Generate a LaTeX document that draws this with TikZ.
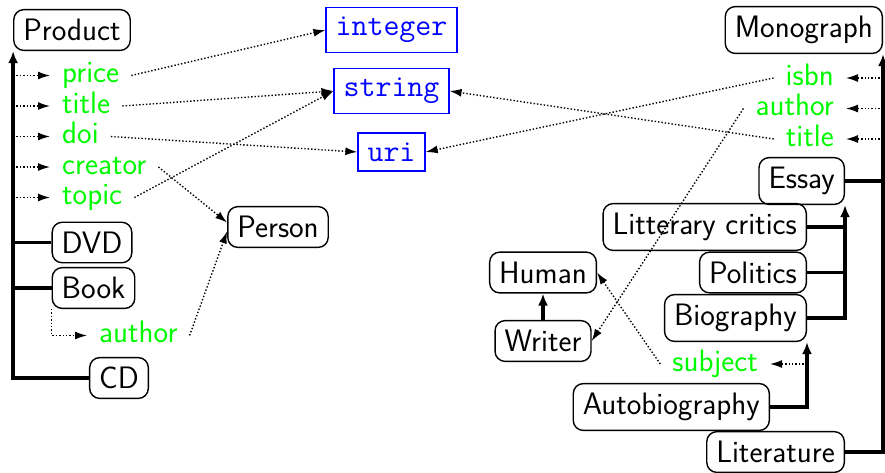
\documentclass[tikz,border=0pt]{standalone}
\usepackage{fontspec}
\usetikzlibrary{arrows.meta}
\definecolor{propgreen}{RGB}{0,250,0}
\begin{document}
\begin{tikzpicture}[x=1pt,y=-1pt,
  base/.style={font=\sffamily\fontsize{31}{36}\selectfont},
  cls/.style={base, draw, rounded corners=10pt, line width=1.4pt, inner sep=9.5pt},
  dtype/.style={draw=blue, text=blue, line width=1.4pt,
    font=\ttfamily\fontsize{31}{36}\selectfont, inner sep=9.5pt},
  prop/.style={base, text=propgreen, inner xsep=12pt, inner ysep=3pt,
    text height=14pt, text depth=0pt},
  isa/.style={line width=3.2pt, -{Latex[length=12pt,width=10pt]}},
  branch/.style={line width=3.2pt},
  rel/.style={line width=1.4pt, dash pattern=on 1.4pt off 2pt,
    -{Latex[length=12pt,width=8pt]}},
]
\useasboundingbox (0,0) rectangle (885,472);

% ---- left hierarchy: Product ----
\node[cls] (product) at (72,30) {Product};
\node[dtype] (integer) at (391.5,30) {integer};
\node[dtype] (string) at (391.5,91) {string};
\node[dtype] (uri) at (391.5,152) {uri};
\node[prop, anchor=base west] (price) at (50,82.5) {price};
\node[prop, anchor=base west] (ltitle) at (50,113) {title};
\node[prop, anchor=base west] (doi) at (50,143.5) {doi};
\node[prop, anchor=base west] (creator) at (50,174) {creator};
\node[prop, anchor=base west] (topic) at (50,204.5) {topic};
\node[cls] (person) at (278,227) {Person};
\node[cls] (dvd) at (92,242.5) {DVD};
\node[cls] (book) at (93.5,288) {Book};
\node[prop, anchor=base west] (bauthor) at (87,342.5) {author};
\node[cls] (cd) at (119,378) {CD};

% ---- right hierarchy: Monograph ----
\node[cls, anchor=east] (mono) at (883,30) {Monograph};
\node[prop, anchor=base east] (isbn) at (846,85) {isbn};
\node[prop, anchor=base east] (rauthor) at (846,115.5) {author};
\node[prop, anchor=base east] (rtitle) at (846,146) {title};
\node[cls, anchor=east] (essay) at (845,181) {Essay};
\node[cls, anchor=east] (critics) at (807,227) {Litterary critics};
\node[cls, anchor=east] (politics) at (807,272.5) {Politics};
\node[cls, anchor=east] (bio) at (807,318) {Biography};
\node[cls] (human) at (543,272.5) {Human};
\node[cls] (writer) at (543,341) {Writer};
\node[prop, anchor=base east] (subject) at (770,371) {subject};
\node[cls, anchor=east] (autobio) at (770,407) {Autobiography};
\node[cls, anchor=east] (lit) at (845,452) {Literature};

% subclass links, left
\draw[isa] (cd.west) -| (product.south west);
\draw[branch] (dvd.west) -- (dvd.west -| product.south west);
\draw[branch] (book.west) -- (book.west -| product.south west);

% properties of Product
\foreach \p in {price,ltitle,doi,creator,topic}
  \draw[rel] (\p.west -| product.south west) -- (\p.west);
\draw[rel] (book.south west) |- (bauthor.west);

\draw[rel] (price.east) -- (integer.west);
\draw[rel] (ltitle.east) -- (string.west);
\draw[rel] (topic.east) -- (string.west);
\draw[rel] (doi.east) -- (uri.west);
\draw[rel] (creator.east) -- (person.175);
\draw[rel] (bauthor.east) -- (person.185);

% subclass links, right
\draw[isa] (lit.east) -| (mono.south east);
\draw[branch] (essay.east) -- (essay.east -| mono.south east);
\draw[isa] (bio.east) -| (essay.south east);
\draw[branch] (critics.east) -- (critics.east -| essay.south east);
\draw[branch] (politics.east) -- (politics.east -| essay.south east);
\draw[isa] (autobio.east) -| (bio.south east);
\draw[isa] (writer) -- (human);

% properties of Monograph and Autobiography
\foreach \p in {isbn,rauthor,rtitle}
  \draw[rel] (\p.east -| mono.south east) -- (\p.east);
\draw[rel] (subject.east -| bio.south east) -- (subject.east);

\draw[rel] (isbn.west) -- (uri.east);
\draw[rel] (rtitle.west) -- (string.east);
\draw[rel] (rauthor.west) -- (writer.east);
\draw[rel] (subject.west) -- (human.east);
\end{tikzpicture}
\end{document}
